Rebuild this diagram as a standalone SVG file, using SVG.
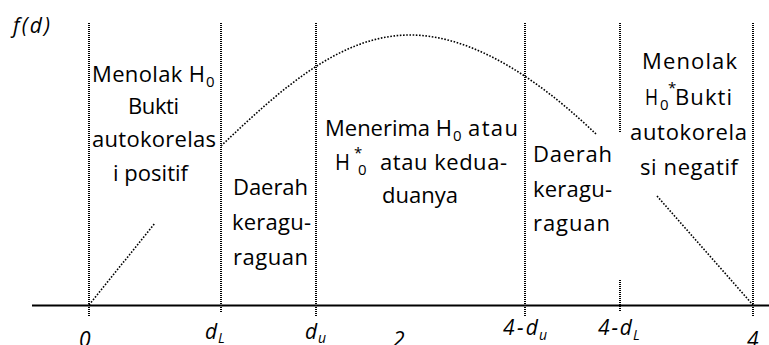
<svg xmlns="http://www.w3.org/2000/svg" width="769" height="345" viewBox="0 0 769 345">
<style>
text{font-family:"Open Sans","Noto Sans",sans-serif;fill:#000;font-variant-ligatures:none}
.t{font-size:22px}
.s{font-size:15px}
.i{font-size:21px;font-style:italic}
.is{font-size:14px;font-style:italic}
.vdot{fill:none;stroke:#000;stroke-width:1.8;stroke-dasharray:1 1;shape-rendering:crispEdges}
.dot{fill:none;stroke:#000;stroke-width:1.6;stroke-dasharray:1.6 1.6}
.axis{fill:none;stroke:#000;stroke-width:2.2}
</style>
<rect width="769" height="345" fill="#fff"/>
<g id="connectors">
<path class="axis" d="M32,305.5 H769"/>
<path class="vdot" d="M89,23 V317 M221,23 V312 M316,23 V317 M525,23 V317 M620,23 V133 M620,280 V312 M753,23 V317"/>
<path class="dot" d="M89,305 L155,223"/>
<path class="dot" d="M221,146 C280,90 340,35 410,35 C480,35 550,90 597,135"/>
<path class="dot" d="M657,196 L753,305"/>
</g>
<g id="ylabel"><text class="i" x="13" y="33" textLength="37" lengthAdjust="spacing">f(d)</text></g>
<g id="region-left">
<text class="t" x="92" y="82" textLength="113" lengthAdjust="spacing">Menolak H</text>
<text class="s" x="206" y="87">0</text>
<text class="t" x="128" y="114" textLength="51" lengthAdjust="spacing">Bukti</text>
<text class="t" x="92" y="147" textLength="124" lengthAdjust="spacing">autokorelas</text>
<text class="t" x="113" y="181" textLength="75" lengthAdjust="spacing">i positif</text>
</g>
<g id="region-doubt-left">
<text class="t" x="233" y="195" textLength="75" lengthAdjust="spacing">Daerah</text>
<text class="t" x="232" y="230" textLength="79" lengthAdjust="spacing">keragu-</text>
<text class="t" x="233" y="265" textLength="75" lengthAdjust="spacing">raguan</text>
</g>
<g id="region-center">
<text class="t" x="325" y="136" textLength="127" lengthAdjust="spacing">Menerima H</text>
<text class="s" x="453" y="141">0</text>
<text class="t" x="468" y="136" textLength="50" lengthAdjust="spacing">atau</text>
<text class="t" x="335" y="170" textLength="15" lengthAdjust="spacingAndGlyphs">H</text>
<text class="s" x="354" y="158">*</text>
<text class="s" x="358" y="175">0</text>
<text class="t" x="380" y="170" textLength="127" lengthAdjust="spacing">atau kedua-</text>
<text class="t" x="382" y="203" textLength="76" lengthAdjust="spacing">duanya</text>
</g>
<g id="region-doubt-right">
<text class="t" x="533" y="162" textLength="79" lengthAdjust="spacing">Daerah</text>
<text class="t" x="533" y="197" textLength="79" lengthAdjust="spacing">keragu-</text>
<text class="t" x="533" y="231" textLength="77" lengthAdjust="spacing">raguan</text>
</g>
<g id="region-right">
<text class="t" x="642" y="69" textLength="95" lengthAdjust="spacing">Menolak</text>
<text class="t" x="645" y="105" textLength="13" lengthAdjust="spacingAndGlyphs">H</text>
<text class="s" x="660" y="110">0</text>
<text class="s" x="668" y="93">*</text>
<text class="t" x="675" y="105" textLength="57" lengthAdjust="spacing">Bukti</text>
<text class="t" x="630" y="140" textLength="117" lengthAdjust="spacing">autokorela</text>
<text class="t" x="640" y="175" textLength="98" lengthAdjust="spacing">si negatif</text>
</g>
<g id="ticks">
<text class="i" x="79" y="347">0</text>
<text class="i" x="205" y="339">d</text><text class="is" x="218" y="343">L</text>
<text class="i" x="305" y="339">d</text><text class="is" x="318" y="343">u</text>
<text class="i" x="393" y="347">2</text>
<text class="i" x="503" y="335" textLength="35" lengthAdjust="spacing">4-d</text><text class="is" x="539" y="340">u</text>
<text class="i" x="598" y="335" textLength="34" lengthAdjust="spacing">4-d</text><text class="is" x="633" y="340">L</text>
<text class="i" x="747" y="347">4</text>
</g>
</svg>
